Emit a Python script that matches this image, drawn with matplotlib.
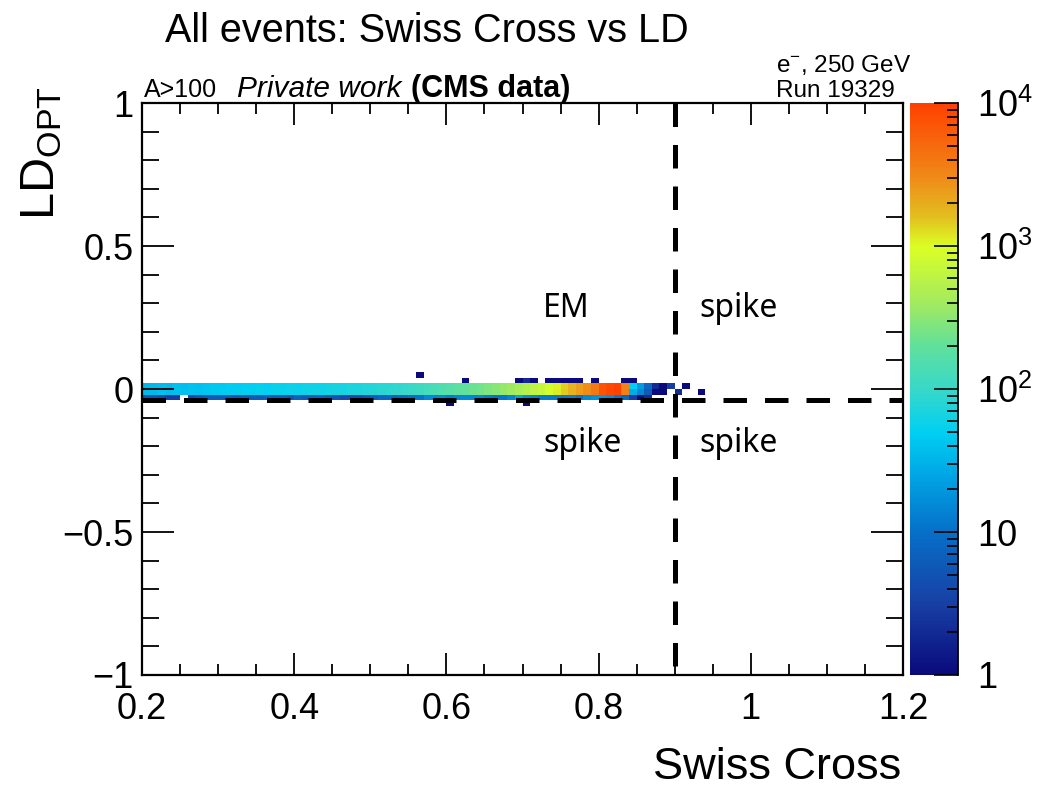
import numpy as np
import matplotlib.pyplot as plt
from matplotlib.colors import LinearSegmentedColormap, LogNorm
from matplotlib.ticker import FixedLocator, FixedFormatter, MultipleLocator


# Histogram binning: Swiss Cross in 0.01 steps, LD_OPT in 0.02 steps
X_EDGES = np.round(np.arange(0.2, 1.2001, 0.01), 4)
Y_EDGES = np.round(np.arange(-1.0, 1.0001, 0.02), 4)
BAND_START = 0.20

# counts in LD_OPT row [0, 0.02), one entry per Swiss Cross bin from 0.20
row_top = [
    32, 34, 36, 35, 38, 37, 40, 39, 42, 44,
    45, 48, 46, 50, 49, 52, 50, 55, 53, 57,
    56, 60, 62, 59, 64, 66, 65, 70, 72, 76,
    78, 82, 86, 90, 96, 102, 112, 122, 136, 150,
    165, 185, 200, 220, 240, 270, 300, 340, 390, 450,
    520, 600, 700, 860, 1100, 1400, 1800, 2300, 2900, 3800,
    7000, 8500, 9500, 3500, 50, 20, 8, 2, 1, 3,
    0, 1,
]
# counts in LD_OPT row [-0.02, 0)
row_mid = [
    34, 35, 37, 36, 39, 38, 41, 40, 43, 45,
    46, 47, 48, 51, 50, 53, 52, 56, 55, 58,
    57, 61, 63, 61, 65, 67, 66, 71, 73, 77,
    80, 84, 88, 92, 98, 105, 115, 125, 140, 155,
    170, 190, 205, 225, 245, 275, 305, 345, 400, 460,
    530, 610, 720, 880, 1150, 1450, 1850, 2400, 3000, 4000,
    7200, 8800, 9800, 3600, 28, 15, 6, 1, 1, 0,
    2, 0, 0, 1,
]
# counts in LD_OPT row [-0.04, -0.02)
row_low = [
    5, 5, 4, 3, 3, 0, 4, 5, 6, 6,
    6, 6, 5, 6, 6, 6, 7, 6, 6, 5,
    7, 6, 7, 7, 6, 5, 4, 4, 4, 5,
    6, 8, 8, 7, 8, 9, 10, 15, 14, 15,
    12, 14, 15, 14, 15, 12, 10, 11, 14, 25,
    16, 14, 12, 12, 12, 12, 13, 11, 15, 18,
    20, 18, 12, 8, 3, 1, 2,
]
# isolated entries away from the main band
sparse_x = [0.56, 0.62, 0.69, 0.70, 0.71, 0.73, 0.74, 0.75, 0.76, 0.77, 0.79, 0.83, 0.84, 0.60, 0.70]
sparse_y = [0.04, 0.02, 0.02, 0.02, 0.02, 0.02, 0.02, 0.02, 0.02, 0.02, 0.02, 0.02, 0.02, -0.06, -0.06]
sparse_n = [1, 1, 1, 2, 1, 1, 1, 1, 1, 1, 1, 1, 1, 1, 1]

SC_CUT = 0.9
LD_CUT = -0.037

PX_W, PX_H = 1040, 786

plt.rcParams["font.family"] = ["Liberation Sans", "DejaVu Sans"]
plt.rcParams["mathtext.fontset"] = "custom"
plt.rcParams["mathtext.rm"] = "Liberation Sans"
plt.rcParams["mathtext.it"] = "Liberation Sans:italic"
plt.rcParams["mathtext.bf"] = "Liberation Sans:bold"
plt.rcParams["axes.unicode_minus"] = True


def fill_row(hist, counts, y_low):
    iy = int(round((y_low - Y_EDGES[0]) / 0.02))
    ix0 = int(round((BAND_START - X_EDGES[0]) / 0.01))
    for i, n in enumerate(counts):
        hist[iy, ix0 + i] = n


def fig_xy(px, py):
    return px / PX_W, 1 - py / PX_H


hist = np.zeros((len(Y_EDGES) - 1, len(X_EDGES) - 1))
fill_row(hist, row_top, 0.0)
fill_row(hist, row_mid, -0.02)
fill_row(hist, row_low, -0.04)
for x, y, n in zip(sparse_x, sparse_y, sparse_n):
    ix = int(round((x - X_EDGES[0]) / 0.01))
    iy = int(round((y - Y_EDGES[0]) / 0.02))
    hist[iy, ix] += n
hist = np.ma.masked_equal(hist, 0)

# rainbow palette, log scale from 1 to 1e4
palette = LinearSegmentedColormap.from_list("rainbow_root", [
    (0.000, "#0a0a7c"),
    (0.125, "#1840a4"),
    (0.250, "#0670c8"),
    (0.350, "#00a6e6"),
    (0.425, "#00d0f2"),
    (0.500, "#38d8c8"),
    (0.575, "#60e09c"),
    (0.650, "#a2ea60"),
    (0.750, "#dcff24"),
    (0.800, "#e2c020"),
    (0.875, "#f08818"),
    (1.000, "#ff4000"),
])

fig = plt.figure(figsize=(PX_W / 100, PX_H / 100), dpi=100)
ax = fig.add_axes([142 / PX_W, 1 - 675 / PX_H, 761 / PX_W, 572 / PX_H])
mesh = ax.pcolormesh(X_EDGES, Y_EDGES, hist, cmap=palette,
                     norm=LogNorm(vmin=1, vmax=1e4), zorder=1)

dash = (0, (4.7, 3.6))
ax.plot([SC_CUT, SC_CUT], [1, -1], color="black", lw=3.6, linestyle=dash, zorder=3)
ax.plot([0.2, 1.2], [LD_CUT, LD_CUT], color="black", lw=3.6, linestyle=dash, zorder=3)

ax.set_xlim(0.2, 1.2)
ax.set_ylim(-1, 1)
ax.xaxis.set_major_locator(FixedLocator([0.2, 0.4, 0.6, 0.8, 1.0, 1.2]))
ax.xaxis.set_major_formatter(FixedFormatter(["0.2", "0.4", "0.6", "0.8", "1", "1.2"]))
ax.xaxis.set_minor_locator(MultipleLocator(0.05))
ax.yaxis.set_major_locator(FixedLocator([-1, -0.5, 0, 0.5, 1]))
ax.yaxis.set_major_formatter(FixedFormatter(["\u22121", "\u22120.5", "0", "0.5", "1"]))
ax.yaxis.set_minor_locator(MultipleLocator(0.1))
ax.tick_params(which="both", direction="in", top=True, right=True, width=1.3, labelsize=26)
ax.tick_params(axis="x", which="major", length=16, pad=12)
ax.tick_params(axis="x", which="minor", length=8)
ax.tick_params(axis="y", which="major", length=23, pad=6)
ax.tick_params(axis="y", which="minor", length=12)
for sp in ax.spines.values():
    sp.set_linewidth(1.6)

# axis titles, ROOT style: x title right-aligned, y title at the top
fig.text(*fig_xy(901, 779), "Swiss Cross", fontsize=32.5, ha="right", va="baseline")
fig.text(*fig_xy(42, 86), "LD$_{\\mathrm{OPT}}$", fontsize=35, rotation=90,
         ha="center", va="top")

# region labels
region_font = dict(family=["Noto Sans", "DejaVu Sans"], fontsize=23, va="center", ha="left")
ax.text(0.727, 0.283, "EM", **region_font)
ax.text(0.933, 0.283, "spike", **region_font)
ax.text(0.727, -0.19, "spike", **region_font)
ax.text(0.933, -0.19, "spike", **region_font)

# colour scale
cax = fig.add_axes([910 / PX_W, 1 - 675 / PX_H, 48 / PX_W, 572 / PX_H])
cb = fig.colorbar(mesh, cax=cax)
cb.outline.set_visible(False)
cax.plot([1, 1], [0, 1], color="black", lw=1.3, transform=cax.transAxes, clip_on=False)
cax.yaxis.set_major_locator(FixedLocator([1, 10, 100, 1000, 10000]))
cax.yaxis.set_major_formatter(FixedFormatter(["1", "10", "$10^{2}$", "$10^{3}$", "$10^{4}$"]))
minor = [m * 10 ** e for e in range(4) for m in range(2, 10)]
cax.yaxis.set_minor_locator(FixedLocator(minor))
cax.tick_params(which="both", direction="in", right=True, left=False, labelsize=26, width=1.2, pad=14)
cax.tick_params(which="major", length=17)
cax.tick_params(which="minor", length=8)

# header texts
fig.text(*fig_xy(165, 42), "All events: Swiss Cross vs LD", fontsize=28.5)
fig.text(*fig_xy(144, 97), "A>100", fontsize=18)
fig.text(*fig_xy(237, 97), "Private work", fontsize=21.5, style="italic")
fig.text(*fig_xy(411, 97), "(CMS data)", fontsize=22, weight="bold")
fig.text(*fig_xy(776, 72), "e$^{-}$, 250 GeV", fontsize=17.5)
fig.text(*fig_xy(776, 97), "Run 19329", fontsize=17.5)

fig.savefig("out.png", dpi=100)
